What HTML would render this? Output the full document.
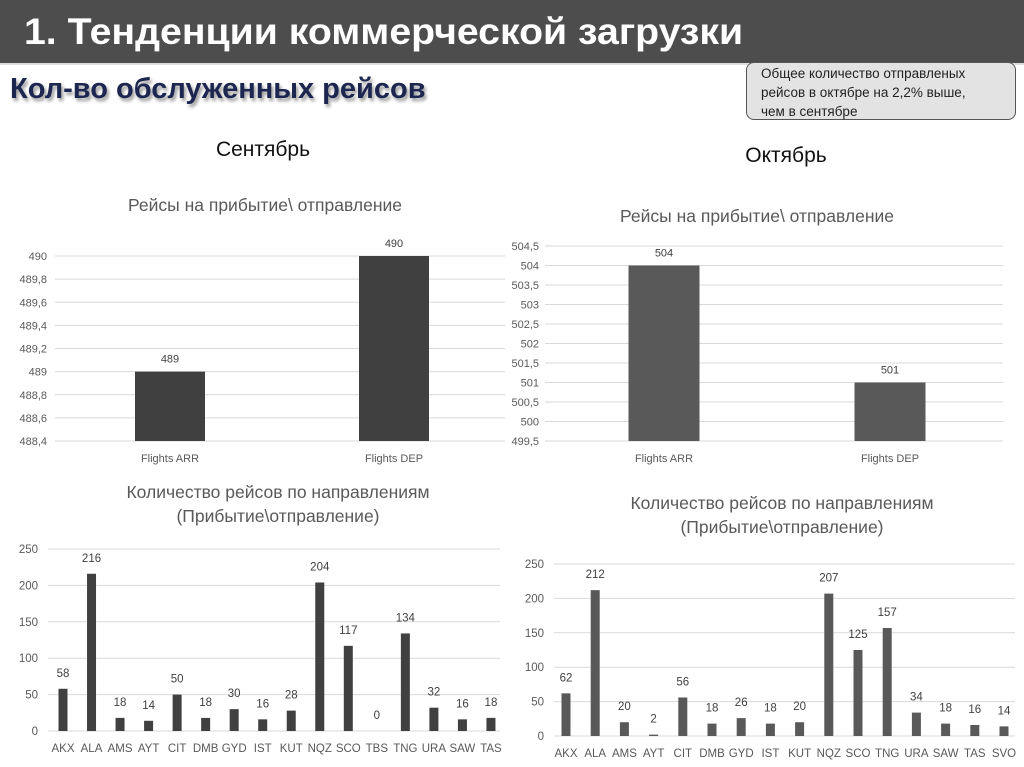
<!DOCTYPE html>
<html><head><meta charset="utf-8"><style>
body{margin:0;width:1024px;height:767px;background:#fff;position:relative;overflow:hidden;font-family:"Liberation Sans","DejaVu Sans",sans-serif}
.hdr{position:absolute;left:0;top:0;width:1024px;height:63px;background:#4d4d4d;border-bottom:2px solid #ddd}
.hdr span{position:absolute;left:24px;top:11px;color:#fff;font-size:37px;font-weight:bold;transform:scaleX(1.06);transform-origin:left}
.sub{position:absolute;left:10px;top:73px;color:#1c2650;font-size:29px;font-weight:bold;text-shadow:2px 3px 3px #999;transform:scaleX(1.0);transform-origin:left}
.call{position:absolute;left:746px;top:62px;width:270px;height:58px;background:#e3e3e3;border:1.5px solid #555;border-radius:8px;font-size:13.5px;line-height:19px;padding:1px 0 0 14px;box-sizing:border-box;color:#222;white-space:nowrap}
svg{position:absolute;left:0;top:0}
</style></head><body>
<div class="hdr"><span>1. Тенденции коммерческой загрузки</span></div>
<div class="sub">Кол-во обслуженных рейсов</div>
<div class="call">Общее количество отправленых<br>рейсов в октябре на 2,2% выше,<br>чем в сентябре</div>
<svg id="c" width="1024" height="767">
<text x="263" y="156" font-size="21" text-anchor="middle" fill="#111">Сентябрь</text>
<text x="786" y="162" font-size="21" text-anchor="middle" fill="#111">Октябрь</text>
<text x="265" y="211" font-size="17.5" text-anchor="middle" fill="#595959">Рейсы на прибытие\ отправление</text>
<text x="757" y="222" font-size="17.5" text-anchor="middle" fill="#595959">Рейсы на прибытие\ отправление</text>
<text x="278" y="498" font-size="17.5" text-anchor="middle" fill="#595959">Количество рейсов по направлениям</text>
<text x="278" y="522" font-size="17.5" text-anchor="middle" fill="#595959">(Прибытие\отправление)</text>
<text x="782" y="509" font-size="17.5" text-anchor="middle" fill="#595959">Количество рейсов по направлениям</text>
<text x="782" y="533" font-size="17.5" text-anchor="middle" fill="#595959">(Прибытие\отправление)</text>
</svg>
<script>
const sepTopCats=["Flights ARR","Flights DEP"];
const sepTopVals=[489,490];
const sepTopTicks=[488.4,488.6,488.8,489,489.2,489.4,489.6,489.8,490];
const octTopCats=["Flights ARR","Flights DEP"];
const octTopVals=[504,501];
const octTopTicks=[499.5,500,500.5,501,501.5,502,502.5,503,503.5,504,504.5];
const sepCats=["AKX","ALA","AMS","AYT","CIT","DMB","GYD","IST","KUT","NQZ","SCO","TBS","TNG","URA","SAW","TAS"];
const sepVals=[58,216,18,14,50,18,30,16,28,204,117,0,134,32,16,18];
const octCats=["AKX","ALA","AMS","AYT","CIT","DMB","GYD","IST","KUT","NQZ","SCO","TNG","URA","SAW","TAS","SVO"];
const octVals=[62,212,20,2,56,18,26,18,20,207,125,157,34,18,16,14];
const bottomTicks=[0,50,100,150,200,250];
const NS="http://www.w3.org/2000/svg",svg=document.getElementById('c');
function el(t,a,txt){const e=document.createElementNS(NS,t);for(const k in a)e.setAttribute(k,a[k]);if(txt!==undefined)e.textContent=txt;svg.appendChild(e);return e;}
function fmt(v){return String(v).replace('.',',');}
function chart(o){
  const y=v=>o.y0+(v-o.vmin)/(o.vmax-o.vmin)*(o.y1-o.y0);
  const x=i=>o.xFirst+i*o.step;
  o.ticks.forEach(t=>{
    const g=el('line',{x1:o.gx0,x2:o.gx1,y1:y(t),y2:y(t),stroke:'#d9d9d9','stroke-width':1});
    
    
    const l=el('text',{x:o.tx,y:y(t)+4,'font-size':o.fs,'text-anchor':'end',fill:'#595959'},fmt(t));
    
    
  });
  o.vals.forEach((v,i)=>{
    const b=el('rect',{x:x(i)-o.bw/2,y:y(v),width:o.bw,height:Math.max(0,o.y0-y(v)),fill:o.color});
    
    
    const t=el('text',{x:x(i),y:y(v)-o.lblOff,'font-size':o.fs,'text-anchor':'middle',fill:'#404040'},fmt(v));
    
    
    const c=el('text',{x:x(i),y:o.catY,'font-size':o.fs,'text-anchor':'middle',fill:'#595959'},o.cats[i]);
    
    
  });
}
chart({cats:sepTopCats,vals:sepTopVals,ticks:sepTopTicks,vmin:488.4,vmax:490,y0:441,y1:256,gx0:55,gx1:505,tx:47,xFirst:170,step:224,bw:70,color:'#404040',fs:11,lblOff:9,catY:462});
chart({cats:octTopCats,vals:octTopVals,ticks:octTopTicks,vmin:499.5,vmax:504.5,y0:441,y1:246,gx0:545,gx1:1003,tx:539,xFirst:664,step:226,bw:71,color:'#595959',fs:11,lblOff:9,catY:462});
chart({cats:sepCats,vals:sepVals,ticks:bottomTicks,vmin:0,vmax:250,y0:731,y1:549,gx0:48,gx1:500,tx:38,xFirst:63,step:28.53,bw:9,color:'#404040',fs:11.5,lblOff:12,catY:752});
chart({cats:octCats,vals:octVals,ticks:bottomTicks,vmin:0,vmax:250,y0:736,y1:564,gx0:554,gx1:1015,tx:544,xFirst:566,step:29.2,bw:9,color:'#595959',fs:11.5,lblOff:12,catY:757});
</script>
</body></html>
